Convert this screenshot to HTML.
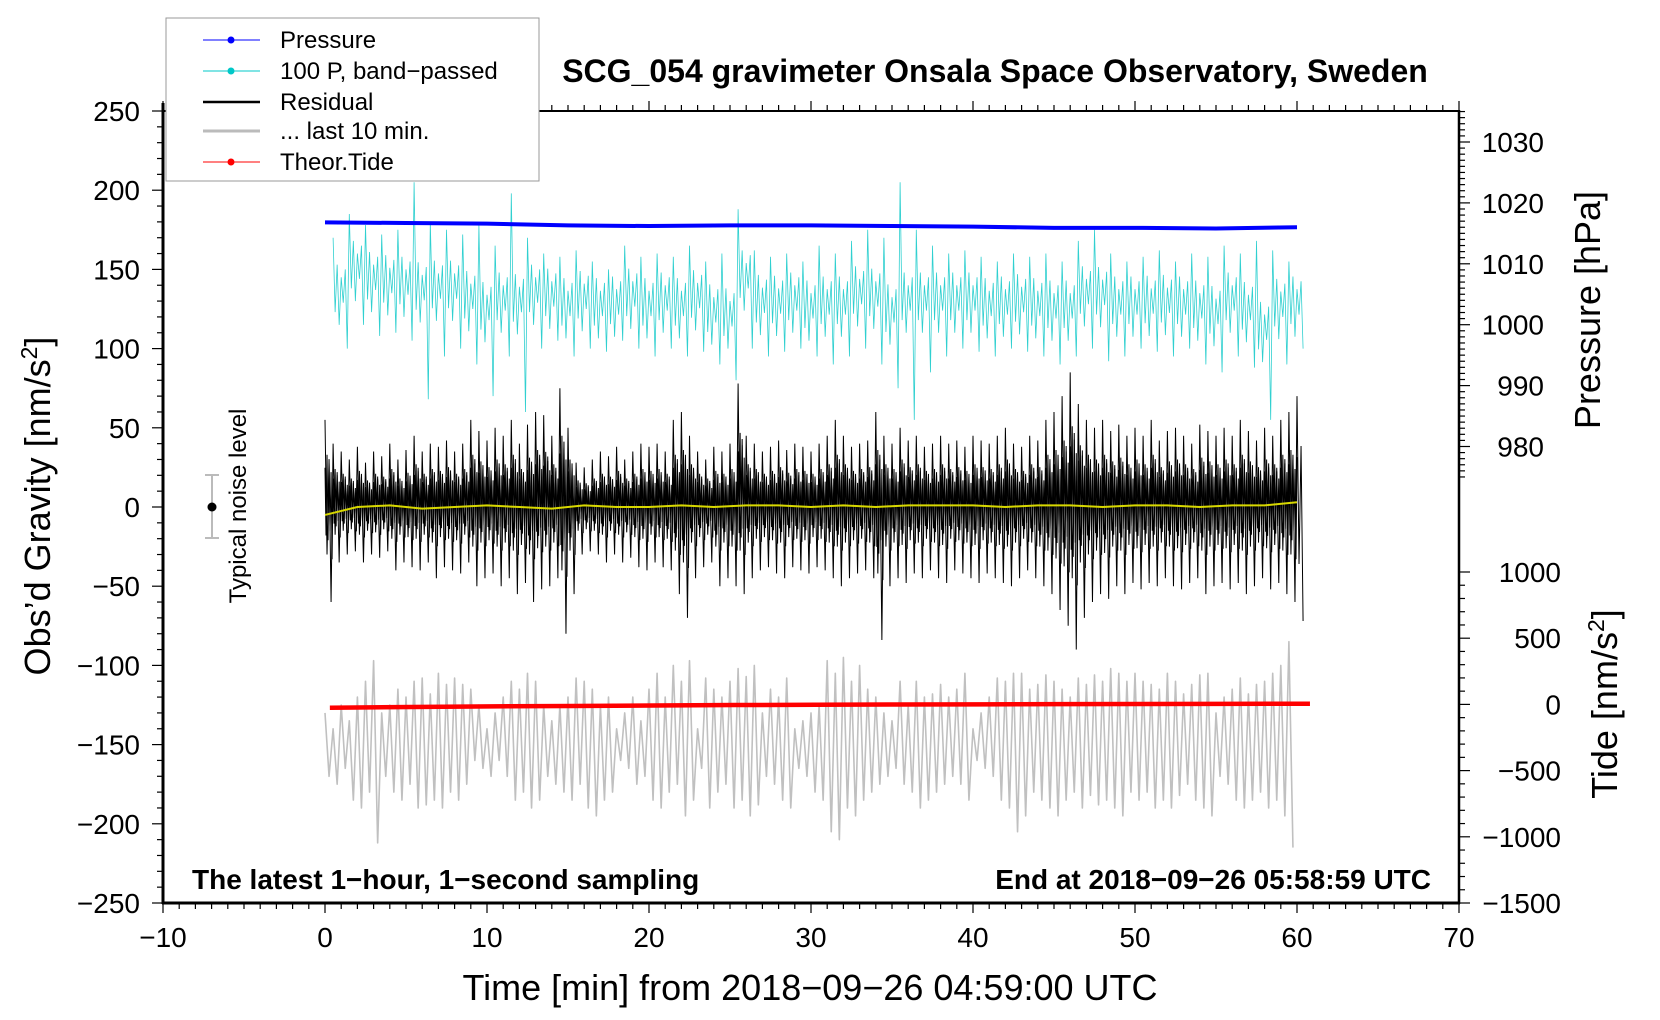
<!DOCTYPE html>
<html><head><meta charset="utf-8">
<style>
html,body{margin:0;padding:0;background:#fff;}
svg{display:block;font-family:"Liberation Sans",sans-serif;}
</style></head>
<body>
<svg id="chart" width="1660" height="1020" viewBox="0 0 1660 1020">
<rect x="0" y="0" width="1660" height="1020" fill="#fff"/>
<g id="marks"></g>
<g id="axes"></g>
<text x="995" y="82" text-anchor="middle" font-size="32" font-weight="bold">SCG_054 gravimeter Onsala Space Observatory, Sweden</text>
<text x="192" y="889" font-size="28" font-weight="bold">The latest 1−hour, 1−second sampling</text>
<text x="1431" y="889" text-anchor="end" font-size="28" font-weight="bold">End at 2018−09−26 05:58:59 UTC</text>
<text x="810" y="1000" text-anchor="middle" font-size="36">Time [min] from 2018−09−26 04:59:00 UTC</text>
<text transform="translate(50,506) rotate(-90)" text-anchor="middle" font-size="36">Obs’d Gravity [nm/s<tspan dy="-13" font-size="23">2</tspan><tspan dy="13">]</tspan></text>
<text transform="translate(1600,310) rotate(-90)" text-anchor="middle" font-size="36">Pressure [hPa]</text>
<text transform="translate(1617,704) rotate(-90)" text-anchor="middle" font-size="36">Tide [nm/s<tspan dy="-13" font-size="23">2</tspan><tspan dy="13">]</tspan></text>
<g>
<line x1="212" y1="475" x2="212" y2="538" stroke="#bbb" stroke-width="2"/>
<line x1="205" y1="475" x2="219" y2="475" stroke="#bbb" stroke-width="2"/>
<line x1="205" y1="538" x2="219" y2="538" stroke="#bbb" stroke-width="2"/>
<circle cx="212" cy="507" r="4.5" fill="#000"/>
<text transform="translate(246,506) rotate(-90)" text-anchor="middle" font-size="24">Typical noise level</text>
</g>
<g>
<rect x="166" y="18" width="373" height="163" fill="#fff" stroke="#999" stroke-width="1"/>
<g><line x1="203" y1="40" x2="260" y2="40" stroke="#00f" stroke-width="1"/><circle cx="231" cy="40" r="3.5" fill="#00f"/><text x="280" y="48" font-size="24">Pressure</text></g>
<g><line x1="203" y1="71" x2="260" y2="71" stroke="#00c8c8" stroke-width="1"/><circle cx="231" cy="71" r="3.5" fill="#00c8c8"/><text x="280" y="79" font-size="24">100 P, band−passed</text></g>
<g><line x1="203" y1="102" x2="260" y2="102" stroke="#000" stroke-width="2.5"/><text x="280" y="110" font-size="24">Residual</text></g>
<g><line x1="203" y1="131" x2="260" y2="131" stroke="#bbb" stroke-width="3"/><text x="280" y="139" font-size="24">... last 10 min.</text></g>
<g><line x1="203" y1="162" x2="260" y2="162" stroke="#f00" stroke-width="1"/><circle cx="231" cy="162" r="3.5" fill="#f00"/><text x="280" y="170" font-size="24">Theor.Tide</text></g>
</g>
</svg>
<script>
// ---- data ----
const residualHi = [55,40,35,30,38,28,35,32,40,30,36,
45,35,40,38,42,35,40,55,48,42,
50,45,55,40,52,60,58,45,75,50,
28,25,30,35,32,38,30,35,40,38,
40,35,55,60,45,35,30,38,35,40,
78,45,40,35,38,42,36,40,38,35,
40,45,55,45,38,40,42,60,45,40,
50,42,45,38,40,45,40,42,38,45,
42,40,45,50,40,38,45,42,55,60,
70,85,65,55,50,55,48,52,45,50,
45,55,42,48,50,45,40,52,48,45,
50,45,55,48,42,50,45,55,60,70];
const residualLo = [-60,-35,-30,-28,-35,-30,-32,-28,-40,-35,-38,
-40,-35,-45,-38,-40,-42,-35,-50,-45,-42,
-50,-45,-55,-48,-60,-52,-50,-45,-80,-55,
-30,-28,-30,-35,-30,-35,-32,-38,-40,-35,
-38,-40,-55,-70,-45,-38,-35,-50,-45,-50,
-55,-45,-40,-38,-42,-45,-38,-40,-42,-38,
-40,-45,-50,-45,-42,-40,-45,-84,-50,-45,
-48,-42,-45,-40,-45,-48,-40,-42,-45,-48,
-42,-45,-48,-50,-45,-40,-45,-50,-55,-65,
-75,-90,-70,-60,-55,-58,-50,-55,-48,-52,
-48,-50,-45,-50,-52,-48,-45,-55,-50,-48,
-52,-48,-55,-50,-45,-52,-48,-55,-60,-72];
const yellowVals = [-5,0,1,-1,0,1,0,-1,1,0,0,1,0,1,1,0,1,0,1,1,1,0,1,1,0,1,1,0,1,1,3];
const cyanHi = [170,185,178,172,175,205,180,175,172,178,165,198,170,160,158,162,155,150,165,158,
160,158,165,155,160,188,162,158,160,155,165,160,168,175,170,205,175,165,160,162,
158,155,160,158,160,155,168,175,160,155,158,162,155,160,158,165,160,168,162,155];
const cyanLo = [100,115,108,110,105,68,95,100,90,70,95,60,100,105,95,100,98,105,100,95,
100,95,98,90,80,100,95,98,100,95,90,95,100,90,75,55,85,95,100,98,
95,100,98,95,90,95,100,92,95,100,98,95,100,90,85,95,88,55,90,100];
const pressureVals = [1016.8,1016.7,1016.6,1016.3,1016.2,1016.3,1016.3,1016.2,1016.1,1015.9,1015.9,1015.8,1016.0];
const tideVals = [-25,-20,-15,-12,-8,-5,-3,-1,0,2,3,4,5];
const grayHi = [-130,-140,-125,-135,-120,-110,-97,-130,-125,-115,-120,-110,-108,-118,-105,-112,-108,-112,-115,-125,
-140,-130,-120,-110,-115,-105,-110,-125,-135,-125,-120,-108,-110,-115,-125,-120,-140,-130,-120,-135,
-115,-105,-120,-100,-110,-97,-140,-108,-115,-120,-110,-102,-107,-100,-130,-115,-120,-108,-140,-135,
-130,-125,-97,-105,-95,-110,-100,-115,-120,-130,-135,-110,-125,-110,-120,-118,-112,-120,-115,-105,
-140,-130,-120,-108,-110,-105,-105,-115,-112,-106,-110,-115,-120,-108,-112,-106,-110,-102,-105,-110,
-105,-110,-112,-115,-105,-110,-118,-112,-106,-105,-130,-120,-115,-108,-118,-112,-110,-105,-100,-85];
const grayLo = [-170,-175,-165,-185,-190,-180,-212,-170,-180,-185,-175,-190,-188,-185,-190,-180,-185,-175,-160,-165,
-170,-160,-170,-185,-180,-190,-185,-170,-175,-180,-185,-175,-190,-195,-185,-180,-160,-165,-175,-170,
-185,-190,-180,-175,-195,-185,-165,-190,-180,-175,-190,-185,-195,-188,-170,-175,-185,-190,-165,-170,
-180,-185,-205,-210,-190,-195,-185,-180,-175,-170,-165,-175,-180,-190,-185,-180,-175,-170,-175,-185,
-160,-165,-170,-185,-190,-205,-195,-180,-185,-190,-195,-185,-180,-190,-182,-188,-185,-190,-195,-180,
-185,-180,-190,-185,-190,-182,-175,-185,-190,-195,-170,-175,-185,-190,-185,-180,-190,-185,-195,-215];
const xTicks = [-10,0,10,20,30,40,50,60,70];
const yTicks = [250,200,150,100,50,0,-50,-100,-150,-200,-250];
const pTicks = [1030,1020,1010,1000,990,980];
const tTicks = [1000,500,0,-500,-1000,-1500];

// ---- scales ----
const X0=163, X1=1459, Y0=111, Y1=903;
const xs = t => X0 + (t + 10) / 80 * (X1 - X0);
const ys = v => Y1 - (v + 250) / 500 * (Y1 - Y0);
const ps = p => 142 + (1030 - p) * 6.09;
const ts = v => Y1 - (v + 1500) * 0.1324;
const NS = 'http://www.w3.org/2000/svg';
const marks = document.getElementById('marks');
const axes = document.getElementById('axes');
function mk(tag, attrs, parent){ const e=document.createElementNS(NS,tag); for(const k in attrs) e.setAttribute(k,attrs[k]); parent.appendChild(e); return e; }

// gray last 10 min
let pts=[];
grayHi.forEach((h,i)=>{ const t=i*0.5; pts.push(xs(t)+','+ys(h)); pts.push(xs(t+0.25)+','+ys(grayLo[i])); });
let el = mk('polyline',{points:pts.join(' '),fill:'none',stroke:'#c0c0c0','stroke-width':1.6,'stroke-linejoin':'round'},marks);



// cyan
pts=[];
cyanHi.forEach((h,i)=>{ const t=0.5+i; const lo=cyanLo[i]; const m=(lo+h)/2;
  pts.push(xs(t)+','+ys(h)); pts.push(xs(t+0.125)+','+ys(m-12)); pts.push(xs(t+0.25)+','+ys(m+18));
  pts.push(xs(t+0.375)+','+ys(m-20)); pts.push(xs(t+0.5)+','+ys(m+10)); pts.push(xs(t+0.625)+','+ys(m-6));
  pts.push(xs(t+0.75)+','+ys(m+15)); pts.push(xs(t+0.875)+','+ys(lo)); });
el = mk('polyline',{points:pts.join(' '),fill:'none',stroke:'#30d0d0','stroke-width':0.8},marks);



// residual
pts=[];
residualHi.forEach((h,i)=>{ const t=i*0.5; const lo=residualLo[i]; if(t>60) return;
  pts.push(xs(t)+','+ys(h)); pts.push(xs(t+0.125)+','+ys(lo*0.5)); pts.push(xs(t+0.25)+','+ys(h*0.55)); pts.push(xs(t+0.375)+','+ys(lo)); });
el = mk('polyline',{points:pts.join(' '),fill:'none',stroke:'#000','stroke-width':1},marks);


pts=[];
residualHi.forEach((h,i)=>{ const lo=residualLo[i];
  for(let k=0;k<8;k++){ const t=i*0.5+k*0.0625; if(t>60) return;
    const f=[0.45,0.3,0.6,0.35,0.5,0.25,0.4,0.55][k];
    pts.push(xs(t)+','+ys(k%2?lo*f:h*f)); } });
el = mk('polyline',{points:pts.join(' '),fill:'none',stroke:'#000','stroke-width':1},marks);



// yellow
pts = yellowVals.map((v,i)=> xs(i*2)+','+ys(v));
el = mk('polyline',{points:pts.join(' '),fill:'none',stroke:'#d8d800','stroke-width':2},marks);



// pressure
pts = pressureVals.map((v,i)=> xs(i*5)+','+ps(v));
el = mk('polyline',{points:pts.join(' '),fill:'none',stroke:'#0000ff','stroke-width':4},marks);



// tide
pts = tideVals.map((v,i)=> xs(Math.min(0.3+i*5,60.8))+','+ts(v));
pts.push(xs(60.8)+','+ts(tideVals[tideVals.length-1]));
el = mk('polyline',{points:pts.join(' '),fill:'none',stroke:'#ff0000','stroke-width':4.5},marks);



// ---- axes ----
mk('line',{x1:X0,y1:Y0,x2:X1,y2:Y0,stroke:'#000','stroke-width':2},axes);
mk('line',{x1:X1,y1:Y0-1,x2:X1,y2:Y1+1,stroke:'#000','stroke-width':2.5},axes);
mk('line',{x1:X0,y1:Y0-8,x2:X0,y2:Y1+1,stroke:'#000','stroke-width':3},axes);
mk('line',{x1:X0-1,y1:Y1,x2:X1+1,y2:Y1,stroke:'#000','stroke-width':3},axes);
for(let t=-10;t<=70;t++){ const x=xs(t); const major=t%10===0;
  mk('line',{x1:x,y1:Y1,x2:x,y2:Y1+(major?10:6),stroke:'#000','stroke-width':1.2},axes);
  mk('line',{x1:x,y1:Y0,x2:x,y2:Y0-(major?10:6),stroke:'#000','stroke-width':1.2},axes); }
xTicks.forEach(t=>{ const e=mk('text',{x:xs(t),y:947,'text-anchor':'middle','font-size':28},axes); e.textContent=String(t).replace('-','−');
  
   });
for(let v=-250;v<=250;v+=10){ const y=ys(v); const major=v%50===0;
  mk('line',{x1:X0,y1:y,x2:X0-(major?11:6),y2:y,stroke:'#000','stroke-width':1.2},axes); }
yTicks.forEach(v=>{ const e=mk('text',{x:140,y:ys(v)+10,'text-anchor':'end','font-size':28},axes); e.textContent=String(v).replace('-','−');
  
   });
for(let p=1035;p>=975;p--){ const y=ps(p); if(y<Y0) continue; const major=p%10===0;
  mk('line',{x1:X1,y1:y,x2:X1+(major?11:6),y2:y,stroke:'#000','stroke-width':1.2},axes); }
pTicks.forEach(p=>{ const e=mk('text',{x:1544,y:ps(p)+10,'text-anchor':'end','font-size':28},axes); e.textContent=String(p);
  
   });
for(let v=-1500;v<=1000;v+=100){ const y=ts(v); const major=v%500===0;
  mk('line',{x1:X1,y1:y,x2:X1+(major?11:6),y2:y,stroke:'#000','stroke-width':1.2},axes); }
tTicks.forEach(v=>{ const e=mk('text',{x:1561,y:ts(v)+10,'text-anchor':'end','font-size':28},axes); e.textContent=String(v).replace('-','−');
  
   });
</script>
</body></html>
